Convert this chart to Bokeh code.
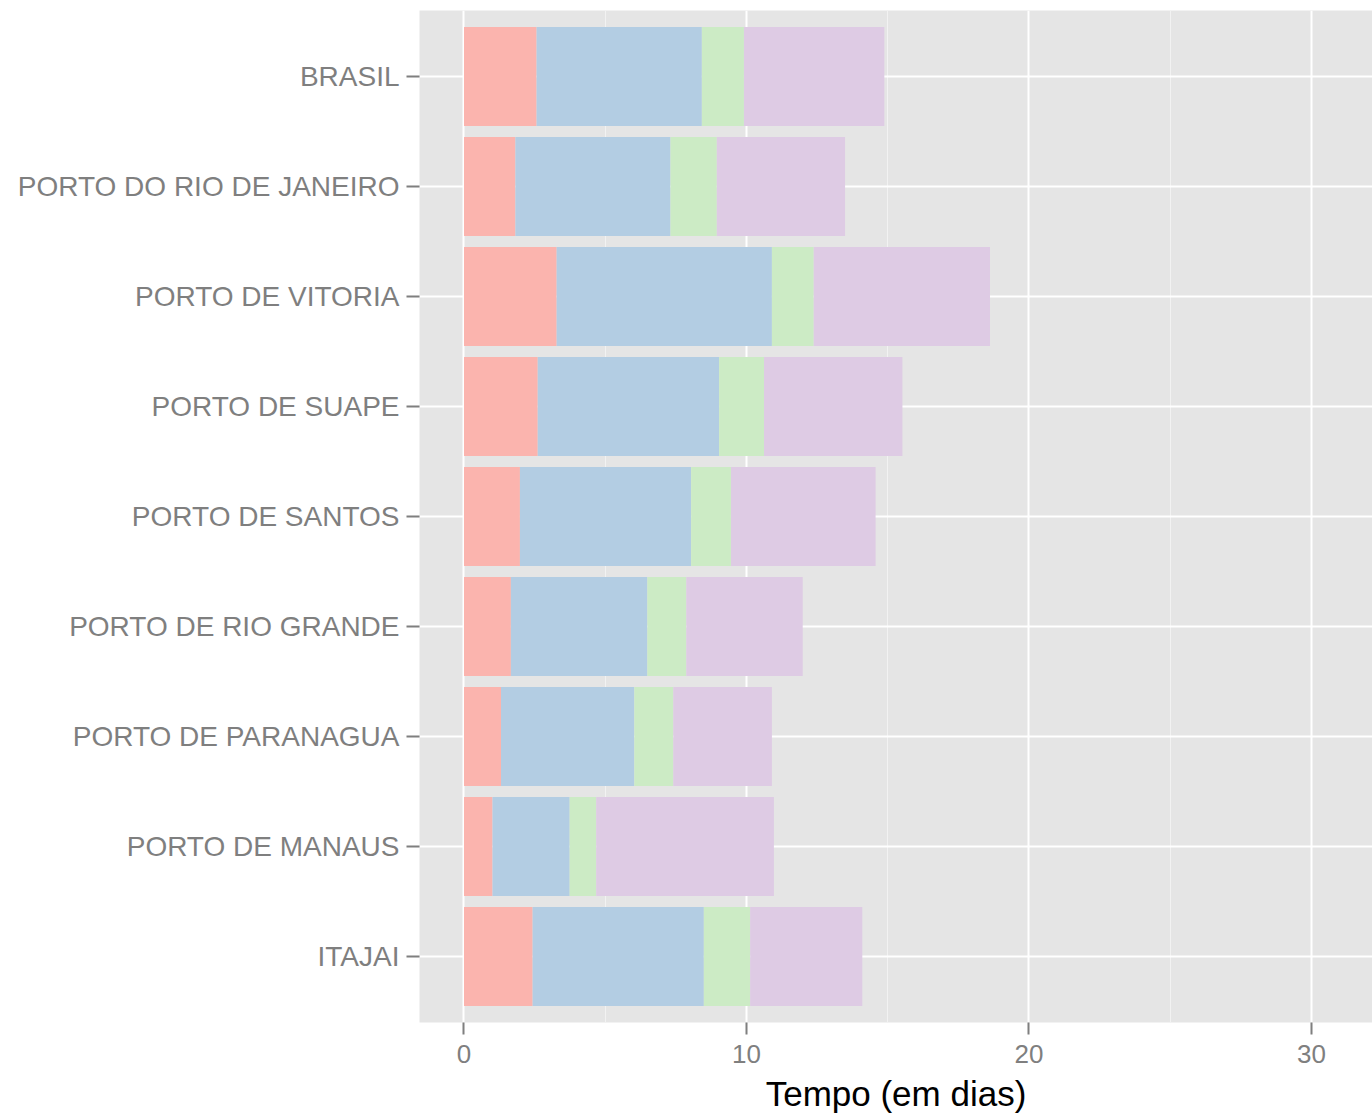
from bokeh.plotting import figure
from bokeh.models import ColumnDataSource, FactorRange, Range1d, FixedTicker
from bokeh.embed import file_html
from bokeh.resources import INLINE

# Categories (top to bottom as shown)
portos = ["BRASIL", "PORTO DO RIO DE JANEIRO", "PORTO DE VITORIA", "PORTO DE SUAPE",
          "PORTO DE SANTOS", "PORTO DE RIO GRANDE", "PORTO DE PARANAGUA",
          "PORTO DE MANAUS", "ITAJAI"]

# Stacked segments (days)
etapa1 = [2.57, 1.82, 3.28, 2.61, 1.98, 1.66, 1.31, 1.01, 2.43]
etapa2 = [5.85, 5.49, 7.62, 6.42, 6.06, 4.83, 4.72, 2.73, 6.06]
etapa3 = [1.49, 1.64, 1.48, 1.59, 1.41, 1.38, 1.38, 0.94, 1.64]
etapa4 = [4.97, 4.54, 6.24, 4.90, 5.12, 4.12, 3.49, 6.29, 3.97]

x_ticks = [0, 10, 20, 30]
x_minor = [5, 15, 25]

series = ["etapa1", "etapa2", "etapa3", "etapa4"]
colors = ["#FBB4AE", "#B3CDE3", "#CCEBC5", "#DECBE4"]

source = ColumnDataSource(dict(porto=portos, etapa1=etapa1, etapa2=etapa2,
                               etapa3=etapa3, etapa4=etapa4))

y_range = FactorRange(factors=list(reversed(portos)), range_padding=0.1,
                      range_padding_units="absolute")

p = figure(width=1372, height=1115, y_range=y_range,
           x_range=Range1d(-1.575, 32.16),
           output_backend="svg", toolbar_location=None,
           min_border_left=419, min_border_right=0, min_border_top=10,
           min_border_bottom=93)

p.hbar_stack(series, y="porto", height=0.9, color=colors, source=source,
             line_color=None)

p.background_fill_color = "#E5E5E5"
p.border_fill_color = "white"
p.outline_line_color = None

p.xgrid.grid_line_color = "white"
p.xgrid.grid_line_width = 2
p.xgrid.minor_grid_line_color = "#F2F2F2"
p.xgrid.minor_grid_line_width = 1
p.ygrid.grid_line_color = "white"
p.ygrid.grid_line_width = 2

p.xaxis.ticker = FixedTicker(ticks=x_ticks, minor_ticks=x_minor)
p.xaxis.axis_label = "Tempo (em dias)"
p.xaxis.axis_label_text_font = "Liberation Sans"
p.xaxis.axis_label_text_font_size = "35px"
p.xaxis.axis_label_text_font_style = "normal"
p.xaxis.axis_label_text_color = "black"
p.xaxis.axis_label_standoff = 8

for ax in (p.xaxis, p.yaxis):
    ax.axis_line_color = None
    ax.major_tick_line_color = "#7F7F7F"
    ax.major_tick_line_width = 2
    ax.major_tick_in = 0
    ax.minor_tick_line_color = None
    ax.major_label_text_color = "#7F7F7F"
    ax.major_label_text_font = "Liberation Sans"

p.xaxis.major_tick_out = 12
p.xaxis.major_label_standoff = 10
p.xaxis.major_label_text_font_size = "26px"

p.yaxis.major_tick_out = 13
p.yaxis.major_label_standoff = 7
p.yaxis.major_label_text_font_size = "28px"

open("out.html", "w").write(file_html(p, INLINE))
